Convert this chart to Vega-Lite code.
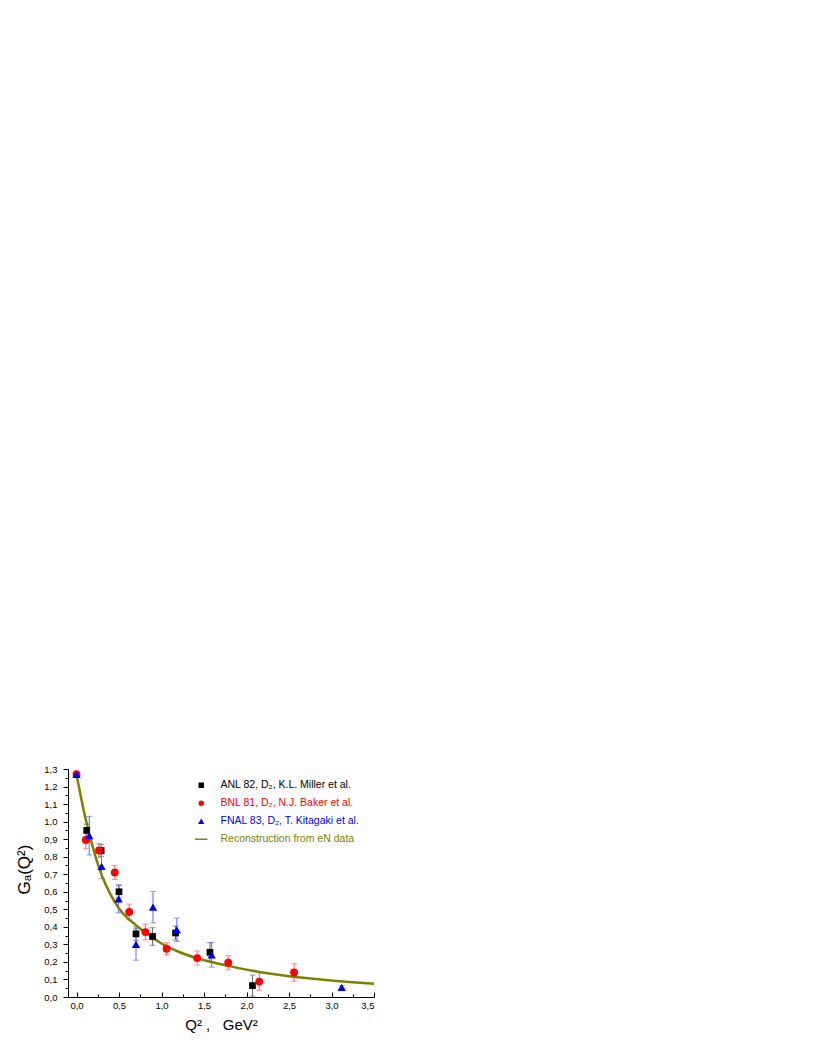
{
  "$schema": "https://vega.github.io/schema/vega-lite/v6.json",
  "width": 306,
  "height": 228,
  "autosize": "none",
  "padding": {"left": 68, "top": 769, "right": 443, "bottom": 61},
  "background": "white",
  "config": {
    "view": {"stroke": null},
    "font": "Liberation Sans",
    "axis": {
      "grid": false,
      "domainColor": "black",
      "domainWidth": 1,
      "tickColor": "black",
      "tickWidth": 1,
      "labelColor": "black",
      "titleColor": "black",
      "labelFont": "Liberation Sans",
      "titleFont": "Liberation Sans",
      "labelFontSize": 9.5,
      "titleFontSize": 15,
      "titleFontWeight": "normal",
      "labelOverlap": false
    },
    "axisY": {"titleFontSize": 17, "titleY": 100}
  },
  "datasets": {
    "points": [
      {"series": "ANL 82, D₂, K.L. Miller et al.", "q2": 0.12, "ga": 0.95, "lo": 0.915, "hi": 0.985},
      {"series": "ANL 82, D₂, K.L. Miller et al.", "q2": 0.29, "ga": 0.835, "lo": 0.8, "hi": 0.87},
      {"series": "ANL 82, D₂, K.L. Miller et al.", "q2": 0.5, "ga": 0.6, "lo": 0.565, "hi": 0.635},
      {"series": "ANL 82, D₂, K.L. Miller et al.", "q2": 0.7, "ga": 0.36, "lo": 0.32, "hi": 0.4},
      {"series": "ANL 82, D₂, K.L. Miller et al.", "q2": 0.895, "ga": 0.345, "lo": 0.295, "hi": 0.395},
      {"series": "ANL 82, D₂, K.L. Miller et al.", "q2": 1.165, "ga": 0.365, "lo": 0.325, "hi": 0.405},
      {"series": "ANL 82, D₂, K.L. Miller et al.", "q2": 1.57, "ga": 0.255, "lo": 0.2, "hi": 0.31},
      {"series": "ANL 82, D₂, K.L. Miller et al.", "q2": 2.07, "ga": 0.065, "lo": 0.005, "hi": 0.125},
      {"series": "BNL 81, D₂, N.J. Baker et al.", "q2": 0.0, "ga": 1.27, "lo": 1.27, "hi": 1.27},
      {"series": "BNL 81, D₂, N.J. Baker et al.", "q2": 0.11, "ga": 0.895, "lo": 0.845, "hi": 0.945},
      {"series": "BNL 81, D₂, N.J. Baker et al.", "q2": 0.265, "ga": 0.835, "lo": 0.795, "hi": 0.875},
      {"series": "BNL 81, D₂, N.J. Baker et al.", "q2": 0.45, "ga": 0.71, "lo": 0.67, "hi": 0.75},
      {"series": "BNL 81, D₂, N.J. Baker et al.", "q2": 0.62, "ga": 0.485, "lo": 0.44, "hi": 0.53},
      {"series": "BNL 81, D₂, N.J. Baker et al.", "q2": 0.81, "ga": 0.37, "lo": 0.325, "hi": 0.415},
      {"series": "BNL 81, D₂, N.J. Baker et al.", "q2": 1.06, "ga": 0.275, "lo": 0.24, "hi": 0.31},
      {"series": "BNL 81, D₂, N.J. Baker et al.", "q2": 1.42, "ga": 0.222, "lo": 0.182, "hi": 0.262},
      {"series": "BNL 81, D₂, N.J. Baker et al.", "q2": 1.785, "ga": 0.195, "lo": 0.155, "hi": 0.235},
      {"series": "BNL 81, D₂, N.J. Baker et al.", "q2": 2.15, "ga": 0.088, "lo": 0.038, "hi": 0.138},
      {"series": "BNL 81, D₂, N.J. Baker et al.", "q2": 2.56, "ga": 0.14, "lo": 0.09, "hi": 0.19},
      {"series": "FNAL 83, D₂, T. Kitagaki et al.", "q2": 0.0, "ga": 1.27, "lo": 1.27, "hi": 1.27},
      {"series": "FNAL 83, D₂, T. Kitagaki et al.", "q2": 0.15, "ga": 0.92, "lo": 0.81, "hi": 1.03},
      {"series": "FNAL 83, D₂, T. Kitagaki et al.", "q2": 0.295, "ga": 0.745, "lo": 0.675, "hi": 0.815},
      {"series": "FNAL 83, D₂, T. Kitagaki et al.", "q2": 0.495, "ga": 0.56, "lo": 0.48, "hi": 0.64},
      {"series": "FNAL 83, D₂, T. Kitagaki et al.", "q2": 0.7, "ga": 0.3, "lo": 0.21, "hi": 0.39},
      {"series": "FNAL 83, D₂, T. Kitagaki et al.", "q2": 0.9, "ga": 0.512, "lo": 0.422, "hi": 0.602},
      {"series": "FNAL 83, D₂, T. Kitagaki et al.", "q2": 1.18, "ga": 0.383, "lo": 0.316, "hi": 0.45},
      {"series": "FNAL 83, D₂, T. Kitagaki et al.", "q2": 1.59, "ga": 0.24, "lo": 0.17, "hi": 0.31},
      {"series": "FNAL 83, D₂, T. Kitagaki et al.", "q2": 3.12, "ga": 0.055, "lo": 0.045, "hi": 0.065}
    ],
    "curve": [
      {"series": "Reconstruction from eN data", "q2": 0.0, "ga": 1.27},
      {"series": "Reconstruction from eN data", "q2": 0.1, "ga": 1.03},
      {"series": "Reconstruction from eN data", "q2": 0.2, "ga": 0.84},
      {"series": "Reconstruction from eN data", "q2": 0.3, "ga": 0.69},
      {"series": "Reconstruction from eN data", "q2": 0.4, "ga": 0.585},
      {"series": "Reconstruction from eN data", "q2": 0.5, "ga": 0.505},
      {"series": "Reconstruction from eN data", "q2": 0.6, "ga": 0.45},
      {"series": "Reconstruction from eN data", "q2": 0.7, "ga": 0.41},
      {"series": "Reconstruction from eN data", "q2": 0.8, "ga": 0.37},
      {"series": "Reconstruction from eN data", "q2": 0.9, "ga": 0.337},
      {"series": "Reconstruction from eN data", "q2": 1.0, "ga": 0.305},
      {"series": "Reconstruction from eN data", "q2": 1.1, "ga": 0.28},
      {"series": "Reconstruction from eN data", "q2": 1.2, "ga": 0.258},
      {"series": "Reconstruction from eN data", "q2": 1.4, "ga": 0.224},
      {"series": "Reconstruction from eN data", "q2": 1.6, "ga": 0.198},
      {"series": "Reconstruction from eN data", "q2": 1.8, "ga": 0.176},
      {"series": "Reconstruction from eN data", "q2": 2.0, "ga": 0.156},
      {"series": "Reconstruction from eN data", "q2": 2.25, "ga": 0.135},
      {"series": "Reconstruction from eN data", "q2": 2.5, "ga": 0.118},
      {"series": "Reconstruction from eN data", "q2": 2.75, "ga": 0.105},
      {"series": "Reconstruction from eN data", "q2": 3.0, "ga": 0.094},
      {"series": "Reconstruction from eN data", "q2": 3.25, "ga": 0.084},
      {"series": "Reconstruction from eN data", "q2": 3.5, "ga": 0.076}
    ]
  },
  "encoding": {
    "x": {
      "field": "q2",
      "type": "quantitative",
      "scale": {"domain": [-0.1, 3.5], "nice": false, "zero": false},
      "axis": {
        "title": "Q² ,\u00a0\u00a0\u00a0GeV²",
        "values": [0, 0.25, 0.5, 0.75, 1, 1.25, 1.5, 1.75, 2, 2.25, 2.5, 2.75, 3, 3.25, 3.5],
        "labelExpr": "abs(datum.value*2 - round(datum.value*2)) < 0.001 ? replace(format(datum.value, '.1f'), '.', ',') : ''",
        "tickSize": {"condition": {"test": "abs(datum.value*2 - round(datum.value*2)) < 0.001", "value": -5}, "value": -3},
        "labelPadding": 8,
        "titlePadding": 6
      }
    }
  },
  "layer": [
    {
      "data": {"name": "points"},
      "mark": {"type": "rule", "strokeWidth": 1},
      "encoding": {
        "y": {
          "field": "lo",
          "type": "quantitative",
          "scale": {"domain": [0, 1.3], "nice": false, "zero": true},
          "axis": {
            "title": "Gₐ(Q²)",
            "values": [0, 0.05, 0.1, 0.15, 0.2, 0.25, 0.3, 0.35, 0.4, 0.45, 0.5, 0.55, 0.6, 0.65, 0.7, 0.75, 0.8, 0.85, 0.9, 0.95, 1, 1.05, 1.1, 1.15, 1.2, 1.25, 1.3],
            "labelExpr": "abs(datum.value*10 - round(datum.value*10)) < 0.001 ? replace(format(datum.value, '.1f'), '.', ',') : ''",
            "tickSize": {"condition": {"test": "abs(datum.value*10 - round(datum.value*10)) < 0.001", "value": 5}, "value": 3},
            "labelPadding": 6,
            "titlePadding": 10
          }
        },
        "y2": {"field": "hi"},
        "stroke": {
          "field": "series",
          "type": "nominal",
          "scale": {
            "domain": ["ANL 82, D₂, K.L. Miller et al.", "BNL 81, D₂, N.J. Baker et al.", "FNAL 83, D₂, T. Kitagaki et al."],
            "range": ["#666666", "#ff6666", "#6666ff"]
          },
          "legend": null
        }
      }
    },
    {
      "data": {"name": "points"},
      "mark": {"type": "tick", "orient": "horizontal", "size": 6, "thickness": 1},
      "encoding": {
        "y": {
          "field": "lo",
          "type": "quantitative",
          "scale": {"domain": [0, 1.3], "nice": false, "zero": true},
          "axis": {
            "title": "Gₐ(Q²)",
            "values": [0, 0.05, 0.1, 0.15, 0.2, 0.25, 0.3, 0.35, 0.4, 0.45, 0.5, 0.55, 0.6, 0.65, 0.7, 0.75, 0.8, 0.85, 0.9, 0.95, 1, 1.05, 1.1, 1.15, 1.2, 1.25, 1.3],
            "labelExpr": "abs(datum.value*10 - round(datum.value*10)) < 0.001 ? replace(format(datum.value, '.1f'), '.', ',') : ''",
            "tickSize": {"condition": {"test": "abs(datum.value*10 - round(datum.value*10)) < 0.001", "value": 5}, "value": 3},
            "labelPadding": 6,
            "titlePadding": 10
          }
        },
        "fill": {
          "field": "series",
          "type": "nominal",
          "scale": {
            "domain": ["ANL 82, D₂, K.L. Miller et al.", "BNL 81, D₂, N.J. Baker et al.", "FNAL 83, D₂, T. Kitagaki et al."],
            "range": ["#666666", "#ff6666", "#6666ff"]
          },
          "legend": null
        }
      }
    },
    {
      "data": {"name": "points"},
      "mark": {"type": "tick", "orient": "horizontal", "size": 6, "thickness": 1},
      "encoding": {
        "y": {
          "field": "hi",
          "type": "quantitative",
          "scale": {"domain": [0, 1.3], "nice": false, "zero": true},
          "axis": {
            "title": "Gₐ(Q²)",
            "values": [0, 0.05, 0.1, 0.15, 0.2, 0.25, 0.3, 0.35, 0.4, 0.45, 0.5, 0.55, 0.6, 0.65, 0.7, 0.75, 0.8, 0.85, 0.9, 0.95, 1, 1.05, 1.1, 1.15, 1.2, 1.25, 1.3],
            "labelExpr": "abs(datum.value*10 - round(datum.value*10)) < 0.001 ? replace(format(datum.value, '.1f'), '.', ',') : ''",
            "tickSize": {"condition": {"test": "abs(datum.value*10 - round(datum.value*10)) < 0.001", "value": 5}, "value": 3},
            "labelPadding": 6,
            "titlePadding": 10
          }
        },
        "fill": {"field": "series", "type": "nominal", "legend": null}
      }
    },
    {
      "data": {"name": "curve"},
      "mark": {"type": "line", "strokeWidth": 2.5, "interpolate": "monotone"},
      "encoding": {
        "y": {
          "field": "ga",
          "type": "quantitative",
          "scale": {"domain": [0, 1.3], "nice": false, "zero": true},
          "axis": {
            "title": "Gₐ(Q²)",
            "values": [0, 0.05, 0.1, 0.15, 0.2, 0.25, 0.3, 0.35, 0.4, 0.45, 0.5, 0.55, 0.6, 0.65, 0.7, 0.75, 0.8, 0.85, 0.9, 0.95, 1, 1.05, 1.1, 1.15, 1.2, 1.25, 1.3],
            "labelExpr": "abs(datum.value*10 - round(datum.value*10)) < 0.001 ? replace(format(datum.value, '.1f'), '.', ',') : ''",
            "tickSize": {"condition": {"test": "abs(datum.value*10 - round(datum.value*10)) < 0.001", "value": 5}, "value": 3},
            "labelPadding": 6,
            "titlePadding": 10
          }
        },
        "color": {
          "field": "series",
          "type": "nominal",
          "scale": {
            "domain": ["ANL 82, D₂, K.L. Miller et al.", "BNL 81, D₂, N.J. Baker et al.", "FNAL 83, D₂, T. Kitagaki et al.", "Reconstruction from eN data"],
            "range": ["#000000", "#ff0000", "#0000ff", "#808000"]
          },
          "legend": {
            "title": null,
            "orient": "none",
            "legendX": 128,
            "legendY": 11,
            "padding": 0,
            "rowPadding": 7,
            "labelFont": "Liberation Sans",
            "labelFontSize": 10.5,
            "labelOffset": 14,
            "symbolSize": 30,
            "encode": {
              "labels": {"update": {"fill": {"signal": "scale('color', datum.value)"}}},
              "symbols": {"update": {
                "fill": {"signal": "datum.value === 'Reconstruction from eN data' ? 'transparent' : scale('color', datum.value)"},
                "stroke": {"signal": "scale('color', datum.value)"},
                "strokeWidth": {"signal": "datum.value === 'Reconstruction from eN data' ? 1.5 : 0"},
                "shape": {"signal": "scale('shape', datum.value)"},
                "size": {"signal": "datum.value === 'Reconstruction from eN data' ? 150 : (datum.value === 'FNAL 83, D₂, T. Kitagaki et al.' ? 40 : 30)"}
              }}
            }
          }
        }
      }
    },
    {
      "data": {"name": "points"},
      "transform": [{"filter": "datum.series === 'ANL 82, D₂, K.L. Miller et al.'"}],
      "mark": {"type": "point", "filled": true, "opacity": 1, "size": 45},
      "encoding": {
        "y": {
          "field": "ga",
          "type": "quantitative",
          "scale": {"domain": [0, 1.3], "nice": false, "zero": true},
          "axis": {
            "title": "Gₐ(Q²)",
            "values": [0, 0.05, 0.1, 0.15, 0.2, 0.25, 0.3, 0.35, 0.4, 0.45, 0.5, 0.55, 0.6, 0.65, 0.7, 0.75, 0.8, 0.85, 0.9, 0.95, 1, 1.05, 1.1, 1.15, 1.2, 1.25, 1.3],
            "labelExpr": "abs(datum.value*10 - round(datum.value*10)) < 0.001 ? replace(format(datum.value, '.1f'), '.', ',') : ''",
            "tickSize": {"condition": {"test": "abs(datum.value*10 - round(datum.value*10)) < 0.001", "value": 5}, "value": 3},
            "labelPadding": 6,
            "titlePadding": 10
          }
        },
        "color": {"field": "series", "type": "nominal"},
        "shape": {
          "field": "series",
          "type": "nominal",
          "scale": {
            "domain": ["ANL 82, D₂, K.L. Miller et al.", "BNL 81, D₂, N.J. Baker et al.", "FNAL 83, D₂, T. Kitagaki et al.", "Reconstruction from eN data"],
            "range": ["square", "circle", "triangle-up", "stroke"]
          }
        }
      }
    },
    {
      "data": {"name": "points"},
      "transform": [{"filter": "datum.series === 'BNL 81, D₂, N.J. Baker et al.'"}],
      "mark": {"type": "point", "filled": true, "opacity": 1, "size": 62},
      "encoding": {
        "y": {
          "field": "ga",
          "type": "quantitative",
          "scale": {"domain": [0, 1.3], "nice": false, "zero": true},
          "axis": {
            "title": "Gₐ(Q²)",
            "values": [0, 0.05, 0.1, 0.15, 0.2, 0.25, 0.3, 0.35, 0.4, 0.45, 0.5, 0.55, 0.6, 0.65, 0.7, 0.75, 0.8, 0.85, 0.9, 0.95, 1, 1.05, 1.1, 1.15, 1.2, 1.25, 1.3],
            "labelExpr": "abs(datum.value*10 - round(datum.value*10)) < 0.001 ? replace(format(datum.value, '.1f'), '.', ',') : ''",
            "tickSize": {"condition": {"test": "abs(datum.value*10 - round(datum.value*10)) < 0.001", "value": 5}, "value": 3},
            "labelPadding": 6,
            "titlePadding": 10
          }
        },
        "color": {"field": "series", "type": "nominal"},
        "shape": {"field": "series", "type": "nominal"}
      }
    },
    {
      "data": {"name": "points"},
      "transform": [{"filter": "datum.series === 'FNAL 83, D₂, T. Kitagaki et al.'"}],
      "mark": {"type": "point", "filled": true, "opacity": 1, "size": 70},
      "encoding": {
        "y": {
          "field": "ga",
          "type": "quantitative",
          "scale": {"domain": [0, 1.3], "nice": false, "zero": true},
          "axis": {
            "title": "Gₐ(Q²)",
            "values": [0, 0.05, 0.1, 0.15, 0.2, 0.25, 0.3, 0.35, 0.4, 0.45, 0.5, 0.55, 0.6, 0.65, 0.7, 0.75, 0.8, 0.85, 0.9, 0.95, 1, 1.05, 1.1, 1.15, 1.2, 1.25, 1.3],
            "labelExpr": "abs(datum.value*10 - round(datum.value*10)) < 0.001 ? replace(format(datum.value, '.1f'), '.', ',') : ''",
            "tickSize": {"condition": {"test": "abs(datum.value*10 - round(datum.value*10)) < 0.001", "value": 5}, "value": 3},
            "labelPadding": 6,
            "titlePadding": 10
          }
        },
        "color": {"field": "series", "type": "nominal"},
        "shape": {"field": "series", "type": "nominal"}
      }
    }
  ]
}
